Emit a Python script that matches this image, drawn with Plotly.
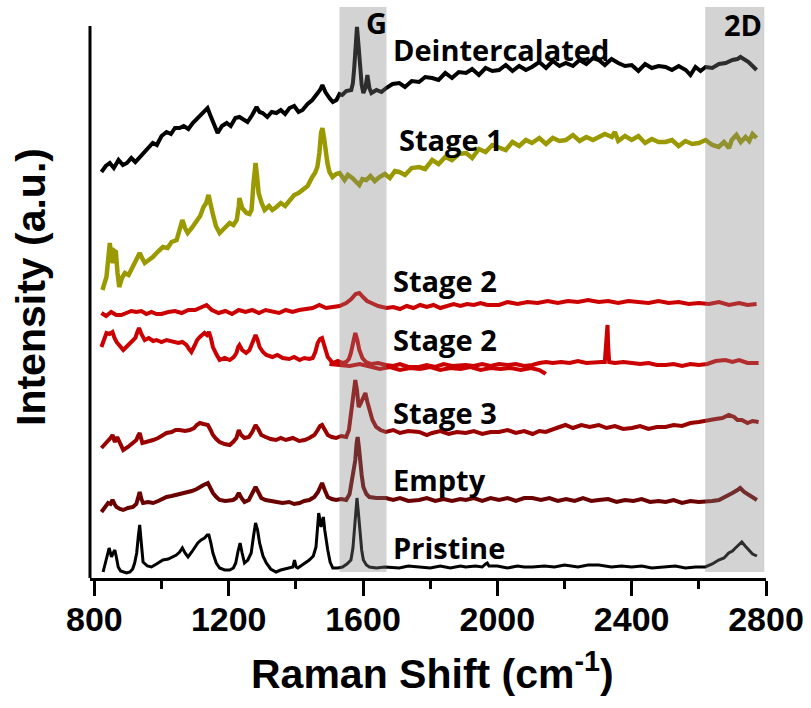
import plotly.graph_objects as go

# ---------------- data (Raman shift in cm^-1, intensity in a.u., vertically offset) ----------------
deint_x = [821, 834, 846, 858, 872, 885, 897, 910, 922, 935, 948, 960, 974, 986, 1000, 1015, 1028, 1040, 1054, 1066,
           1080, 1093, 1108, 1122, 1137, 1145, 1152, 1160, 1167, 1180, 1194, 1206, 1220, 1232, 1244, 1256, 1270, 1283,
           1292, 1301, 1315, 1328, 1342, 1355, 1368, 1381, 1395, 1408, 1420, 1435, 1449, 1462, 1472, 1479, 1488, 1500,
           1510, 1521, 1530, 1538, 1550, 1565, 1570, 1574, 1578, 1582, 1586, 1592, 1596, 1601, 1607, 1613, 1619, 1625,
           1640, 1655, 1669, 1688, 1708, 1725, 1745, 1767, 1785, 1806, 1825, 1845, 1865, 1885, 1907, 1925, 1945, 1965,
           1985, 2005, 2025, 2045, 2065, 2085, 2103, 2125, 2145, 2165, 2185, 2204, 2225, 2245, 2265, 2285, 2302, 2320,
           2340, 2360, 2380, 2400, 2420, 2440, 2460, 2480, 2501, 2520, 2540, 2561, 2575, 2590, 2605, 2620, 2640, 2660,
           2680, 2700, 2715, 2724, 2735, 2748, 2760, 2772]
deint_y = [406, 412, 415, 410, 418, 413, 415, 420, 416, 421, 426, 430, 435, 433, 442, 446, 444, 450, 450, 452,
           449, 455, 460, 465, 470, 463, 458, 450, 445, 452, 455, 452, 460, 461, 458, 456, 463, 471,
           466, 465, 461, 466, 465, 468, 464, 470, 472, 466, 468, 474, 478, 484, 488, 493, 486, 480,
           476, 478, 484, 483, 487, 488, 495, 511, 535, 551, 535, 511, 493, 485, 490, 503, 490, 485,
           488, 486, 490, 494, 495, 491, 497, 496, 501, 500, 498, 505, 500, 506, 505, 509, 503, 510,
           507, 508, 513, 507, 512, 508, 511, 516, 510, 517, 512, 515, 512, 518, 514, 520, 518, 513,
           519, 515, 512, 513, 507, 514, 510, 512, 511, 508, 512, 508, 503, 511, 507, 511, 510, 514,
           515, 518, 519, 521, 519, 516, 512, 508]

stage1_x = [824, 830, 836, 841, 846, 850, 855, 860, 864, 869, 874, 882, 891, 902, 914, 925, 935, 942, 950, 962,
            974, 988, 1004, 1018, 1030, 1045, 1055, 1062, 1070, 1078, 1090, 1105, 1115, 1125, 1133, 1140, 1146, 1152,
            1162, 1173, 1188, 1203, 1214, 1224, 1230, 1232, 1240, 1253, 1262, 1268, 1274, 1280, 1285, 1289, 1298, 1307,
            1320, 1330, 1342, 1355, 1368, 1381, 1395, 1408, 1420, 1435, 1449, 1457, 1464, 1470, 1475, 1479, 1484, 1488,
            1494, 1500, 1509, 1520, 1530, 1545, 1555, 1568, 1578, 1589, 1598, 1610, 1622, 1635, 1649, 1665, 1680, 1695,
            1708, 1725, 1745, 1767, 1785, 1806, 1825, 1845, 1865, 1885, 1907, 1925, 1945, 1965, 1985, 2005, 2025, 2045,
            2065, 2085, 2103, 2125, 2145, 2165, 2185, 2204, 2225, 2245, 2265, 2285, 2302, 2320, 2341, 2350, 2360, 2380,
            2400, 2420, 2440, 2460, 2480, 2501, 2520, 2540, 2560, 2580, 2600, 2620, 2640, 2659, 2675, 2690, 2698, 2712,
            2725, 2739, 2750, 2760, 2772]
stage1_y = [288, 296, 301, 318, 335, 322, 315, 327, 326, 305, 291, 300, 305, 303, 311, 316, 325, 320, 315, 318,
            321, 326, 331, 330, 336, 338, 348, 358, 350, 345, 350, 358, 362, 371, 375, 383, 372, 365,
            352, 345, 350, 355, 353, 358, 372, 380, 370, 365, 364, 368, 395, 415, 400, 385, 375, 368,
            372, 368, 371, 375, 372, 378, 383, 385, 388, 392, 401, 405, 411, 425, 445, 450, 440, 425,
            415, 406, 401, 404, 405, 398, 403, 400, 396, 393, 399, 398, 402, 397, 401, 404, 400, 407,
            406, 403, 410, 411, 409, 418, 414, 421, 418, 424, 425, 420, 429, 426, 433, 431, 428, 436,
            432, 438, 435, 440, 434, 440, 437, 438, 443, 437, 441, 438, 441, 444, 441, 446, 437, 442,
            438, 442, 435, 439, 436, 436, 438, 432, 437, 434, 435, 438, 433, 431, 436, 430, 438, 443,
            436, 441, 437, 444, 440]

stage2a_x = [821, 835, 850, 865, 880, 895, 910, 925, 940, 955, 970, 985, 1000, 1020, 1040, 1060, 1080, 1100, 1120,
             1134, 1150, 1170, 1190, 1210, 1230, 1250, 1270, 1290, 1310, 1330, 1350, 1370, 1390, 1410, 1430, 1450,
             1470, 1490, 1510, 1530, 1550, 1565, 1578, 1589, 1600, 1612, 1625, 1645, 1670, 1690, 1710, 1730, 1750,
             1770, 1790, 1810, 1830, 1850, 1870, 1890, 1910, 1930, 1950, 1970, 2005, 2030, 2060, 2090, 2120, 2150,
             2180, 2210, 2240, 2270, 2302, 2330, 2360, 2390, 2420, 2450, 2480, 2510, 2540, 2570, 2600, 2630, 2660,
             2690, 2720, 2745, 2772]
stage2a_y = [265, 262, 266, 263, 263, 265, 267, 266, 267, 264, 266, 264, 264, 266, 267, 265, 268, 268, 271,
             273, 268, 265, 267, 264, 268, 266, 268, 265, 268, 267, 265, 268, 266, 268, 269, 270,
             273, 270, 271, 272, 275, 279, 284, 285, 281, 277, 275, 272, 270, 271, 269, 272, 270,
             273, 271, 273, 270, 272, 274, 272, 274, 273, 275, 273, 273, 276, 274, 276, 275, 277,
             275, 277, 276, 278, 276, 277, 275, 277, 276, 275, 277, 275, 276, 274, 275, 274, 276,
             273, 275, 273, 274]

stage2b_x = [821, 828, 836, 845, 854, 860, 866, 876, 886, 898, 911, 922, 928, 933, 940, 950, 962, 975, 985, 1000,
             1015, 1033, 1050, 1062, 1074, 1082, 1089, 1098, 1106, 1114, 1128, 1135, 1141, 1147, 1153, 1163, 1173,
             1188, 1203, 1215, 1223, 1228, 1232, 1240, 1252, 1262, 1272, 1280, 1286, 1292, 1302, 1312, 1330, 1345,
             1361, 1380, 1395, 1411, 1425, 1440, 1450, 1458, 1465, 1472, 1478, 1485, 1495, 1510, 1525, 1540, 1550,
             1558, 1564, 1571, 1577, 1583, 1589, 1598, 1609, 1625, 1645, 1668, 1690, 1710, 1735, 1767, 1790, 1815,
             1840, 1865, 1890, 1906, 1930, 1955, 1980, 2005, 2030, 2055, 2080, 2104, 2125, 2145, 2165, 2190, 2215,
             2240, 2265, 2290, 2310, 2320, 2323, 2325, 2328, 2330, 2333, 2350, 2375, 2401, 2425, 2450, 2475, 2501,
             2525, 2550, 2575, 2600, 2625, 2650, 2679, 2700, 2720, 2745, 2778]
stage2b_y = [231, 238, 245, 244, 246, 240, 236, 232, 228, 232, 236, 240, 246, 250, 244, 238, 240, 237, 238, 236,
             238, 236, 235, 236, 233, 229, 226, 232, 238, 241, 245, 243, 246, 240, 231, 224, 218,
             220, 218, 221, 225, 231, 233, 228, 225, 228, 236, 243, 238, 231, 226, 223, 221, 223,
             220, 219, 221, 218, 220, 219, 220, 226, 235, 239, 240, 232, 221, 215, 217, 215, 216,
             219, 225, 236, 245, 238, 228, 220, 216, 214, 215, 213, 212, 214, 211, 211, 213, 211,
             214, 212, 213, 213, 212, 214, 212, 214, 213, 214, 212, 213, 215, 216, 215, 216, 215,
             217, 215, 216, 216, 216, 230, 252, 253, 232, 216, 215, 216, 215, 214, 215, 213, 213,
             214, 212, 214, 213, 214, 217, 218, 216, 218, 215, 215]

# second overlapping Stage 2 scan (ends near 2144 cm^-1)
stage2c_x = [1500, 1530, 1560, 1590, 1620, 1650, 1680, 1710, 1740, 1770, 1800, 1830, 1860, 1890, 1920, 1950, 1980,
             2010, 2040, 2070, 2100, 2125, 2140, 2144]
stage2c_y = [214, 213, 212, 214, 211, 209, 211, 208, 210, 209, 211, 208, 210, 209, 211, 208, 210, 209, 210, 208,
             210, 208, 205, 204]

stage3_x = [821, 830, 841, 848, 854, 861, 868, 876, 886, 900, 915, 925, 930, 935, 943, 955, 965, 975, 990, 1000,
            1015, 1030, 1042, 1054, 1070, 1084, 1097, 1105, 1114, 1125, 1138, 1146, 1153, 1163, 1173, 1188, 1203,
            1213, 1223, 1230, 1237, 1247, 1260, 1270, 1280, 1288, 1297, 1310, 1325, 1341, 1355, 1370, 1391, 1410,
            1426, 1440, 1455, 1465, 1472, 1478, 1486, 1495, 1507, 1520, 1535, 1550, 1558, 1564, 1570, 1577, 1582,
            1587, 1592, 1597, 1602, 1607, 1613, 1619, 1628, 1639, 1652, 1668, 1690, 1710, 1735, 1767, 1790, 1806,
            1830, 1855, 1880, 1906, 1930, 1955, 1980, 2005, 2030, 2055, 2080, 2105, 2125, 2144, 2165, 2185, 2203,
            2225, 2250, 2275, 2302, 2325, 2350, 2375, 2401, 2425, 2450, 2475, 2501, 2525, 2550, 2575, 2600, 2625,
            2650, 2670, 2689, 2705, 2715, 2728, 2745, 2760, 2778]
stage3_y = [130, 133, 138, 140, 143, 136, 141, 134, 128, 131, 135, 138, 142, 145, 135, 136, 137, 138, 140, 142,
            145, 146, 148, 148, 147, 148, 150, 153, 155, 154, 153, 148, 143, 139, 136, 134, 133,
            136, 140, 148, 143, 140, 141, 146, 153, 149, 143, 141, 139, 138, 140, 138, 140, 137,
            138, 140, 143, 148, 152, 153, 148, 143, 141, 140, 142, 141, 148, 165, 182, 198, 188,
            171, 174, 178, 183, 185, 176, 168, 158, 151, 148, 146, 148, 145, 147, 146, 143, 145,
            147, 144, 146, 145, 147, 144, 146, 146, 148, 145, 147, 144, 147, 146, 149, 151, 153,
            150, 153, 151, 153, 150, 152, 149, 150, 152, 149, 151, 151, 153, 152, 155, 156, 157,
            159, 160, 163, 161, 158, 158, 155, 157, 156]

empty_x = [821, 830, 841, 848, 854, 860, 866, 876, 886, 900, 915, 925, 930, 935, 940, 945, 960, 975, 990, 1000,
           1015, 1030, 1045, 1060, 1074, 1090, 1105, 1114, 1125, 1138, 1146, 1153, 1163, 1173, 1190, 1213, 1222,
           1230, 1238, 1247, 1260, 1270, 1280, 1288, 1297, 1310, 1325, 1341, 1360, 1380, 1395, 1411, 1425, 1440,
           1455, 1466, 1472, 1478, 1486, 1495, 1507, 1520, 1535, 1550, 1560, 1567, 1572, 1577, 1581, 1584, 1588,
           1591, 1596, 1601, 1610, 1619, 1640, 1668, 1690, 1710, 1735, 1767, 1790, 1815, 1840, 1865, 1890, 1906,
           1930, 1955, 1980, 2005, 2030, 2055, 2080, 2104, 2130, 2155, 2180, 2205, 2230, 2255, 2280, 2302, 2330,
           2355, 2380, 2405, 2430, 2455, 2480, 2501, 2525, 2550, 2575, 2600, 2619, 2640, 2660, 2679, 2700, 2715,
           2723, 2735, 2748, 2760, 2773]
empty_y = [66, 70, 75, 74, 78, 74, 71, 69, 68, 70, 71, 74, 80, 86, 79, 75, 76, 75, 77, 79,
           81, 82, 83, 84, 85, 87, 89, 91, 93, 95, 90, 85, 81, 78, 77, 78, 80,
           85, 80, 76, 78, 84, 91, 86, 80, 78, 77, 76, 75, 76, 74, 75, 77, 78,
           81, 86, 91, 95, 88, 81, 79, 78, 79, 78, 84, 98, 110, 118, 135, 141, 130,
           118, 103, 91, 84, 81, 80, 80, 78, 80, 77, 78, 80, 77, 79, 77, 79, 78,
           80, 77, 80, 78, 80, 77, 80, 80, 78, 80, 77, 79, 77, 80, 77, 78, 79,
           76, 78, 77, 79, 76, 77, 76, 78, 75, 77, 76, 76, 77, 78, 81, 85, 88,
           90, 86, 83, 80, 78]

pristine_x = [826, 832, 838, 841, 844, 848, 851, 856, 861, 866, 871, 878, 886, 896, 906, 914, 920, 926, 931, 935,
              939, 945, 958, 970, 985, 1004, 1020, 1035, 1044, 1054, 1062, 1070, 1079, 1090, 1100, 1108, 1118, 1128,
              1136, 1141, 1147, 1153, 1163, 1173, 1188, 1203, 1214, 1221, 1228, 1234, 1240, 1247, 1257, 1267, 1274,
              1280, 1286, 1292, 1302, 1312, 1325, 1341, 1355, 1370, 1391, 1396, 1401, 1406, 1420, 1440, 1452, 1460,
              1464, 1468, 1472, 1475, 1479, 1482, 1486, 1490, 1495, 1502, 1510, 1525, 1539, 1552, 1564, 1570, 1574,
              1578, 1582, 1586, 1591, 1596, 1601, 1610, 1619, 1640, 1665, 1690, 1708, 1735, 1767, 1800, 1830, 1860,
              1890, 1906, 1935, 1955, 1965, 1970, 1975, 2000, 2030, 2060, 2080, 2104, 2140, 2170, 2200, 2240, 2270,
              2302, 2340, 2370, 2400, 2430, 2460, 2501, 2530, 2560, 2590, 2619, 2640, 2659, 2675, 2689, 2700, 2709,
              2720, 2728, 2738, 2748, 2760, 2773]
pristine_y = [6, 14, 21, 27, 30, 25, 21, 25, 28, 20, 11, 7, 6, 5, 6, 9, 15, 25, 42, 53,
              38, 16, 12, 11, 14, 18, 19, 21, 23, 26, 30, 25, 21, 26, 31, 35, 38, 40,
              43, 43, 35, 25, 15, 10, 8, 8, 10, 15, 27, 35, 25, 15, 18, 25, 42,
              55, 48, 35, 22, 15, 9, 6, 8, 9, 11, 18, 11, 10, 13, 18, 22, 31,
              48, 65, 58, 51, 57, 61, 48, 38, 28, 16, 10, 10, 11, 14, 18, 30, 45,
              66, 80, 66, 45, 28, 18, 13, 11, 10, 11, 10, 10, 12, 11, 10, 12, 10,
              12, 11, 12, 11, 14, 15, 12, 12, 10, 12, 11, 11, 12, 11, 13, 11, 13,
              13, 11, 12, 11, 12, 10, 11, 12, 10, 11, 11, 14, 18, 20, 25, 27, 30,
              34, 36, 32, 28, 24, 22]

# spectrum labels: (text, x, y)
label_text = ["Deintercalated", "Stage 1", "Stage 2", "Stage 2", "Stage 3", "Empty", "Pristine"]
label_x = [1684, 1702, 1684, 1684, 1684, 1684, 1684]
label_y = [529, 439, 298, 239, 166, 99, 31]

band_names = ["G", "2D"]
band_lo = [1530, 2619]
band_hi = [1670, 2795]

x_ticks = [800, 1200, 1600, 2000, 2400, 2800]

# ---------------- figure ----------------
fig = go.Figure()

series = [
    (deint_x, deint_y, "#000000", 4),
    (stage1_x, stage1_y, "#9a9a00", 4.5),
    (stage2a_x, stage2a_y, "#cc0000", 4),
    (stage2c_x, stage2c_y, "#cc0000", 4),
    (stage2b_x, stage2b_y, "#cc0000", 4),
    (stage3_x, stage3_y, "#990000", 4),
    (empty_x, empty_y, "#6b0000", 4),
    (pristine_x, pristine_y, "#000000", 3),
]
for xs, ys, col, w in series:
    fig.add_trace(go.Scatter(x=xs, y=ys, mode="lines", line=dict(color=col, width=w),
                             showlegend=False, hoverinfo="skip"))

# shaded G / 2D bands (drawn over the spectra)
for lo, hi in zip(band_lo, band_hi):
    fig.add_shape(type="rect", xref="x", yref="y", x0=lo, x1=hi, y0=6, y1=571,
                  fillcolor="rgba(128,128,128,0.35)", line=dict(width=0), layer="above")

# y axis line (shorter than plot area)
fig.add_shape(type="line", xref="paper", yref="y", x0=0, x1=0, y0=0, y1=552,
              line=dict(color="black", width=3), layer="above")

label_font = dict(family="Open Sans", size=29, color="black", weight="bold")
for t, x, y in zip(label_text, label_x, label_y):
    fig.add_annotation(x=x, y=y, text=t, showarrow=False, xanchor="left", yanchor="middle",
                       font=label_font)
band_label_x = [1604, 2668]
band_label_y = [556, 554]
for t, x, y in zip(band_names, band_label_x, band_label_y):
    fig.add_annotation(x=x, y=y, text=t, showarrow=False, xanchor="left", yanchor="middle",
                       font=label_font)

title_font = dict(family="Liberation Sans", size=41, color="black", weight="bold")
fig.add_annotation(xref="paper", yref="paper", x=0.506, y=-0.163, text="Raman Shift (cm<sup>-1</sup>)",
                   showarrow=False, xanchor="center", yanchor="middle", font=title_font)
fig.add_annotation(xref="paper", yref="paper", x=-0.087, y=0.51, text="Intensity (a.u.)",
                   showarrow=False, xanchor="center", yanchor="middle", textangle=-90, font=title_font)

fig.update_layout(
    width=811, height=708,
    margin=dict(l=90, r=43, t=7, b=130),
    paper_bgcolor="white", plot_bgcolor="white",
    xaxis=dict(range=[787, 2800], tickvals=x_ticks, showgrid=False, zeroline=False,
               showline=True, linecolor="black", linewidth=3,
               ticks="outside", ticklen=15, tickwidth=3, tickcolor="black", ticklabelstandoff=-6,
               tickfont=dict(family="Liberation Sans", size=34, color="black", weight="bold"),
               minor=dict(dtick=200, tick0=800, ticks="outside", ticklen=8, tickwidth=3, tickcolor="black")),
    yaxis=dict(range=[0, 571], showticklabels=False, showgrid=False, zeroline=False, showline=False,
               ticks=""),
)

fig.write_html("out.html")
